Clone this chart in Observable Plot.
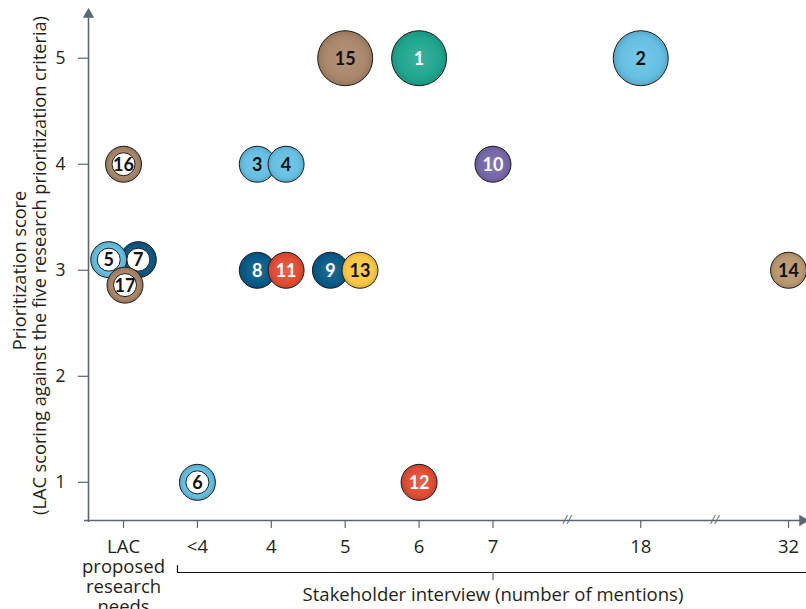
<!DOCTYPE html>
<html>
<head>
<meta charset="utf-8">
<script src="https://cdn.jsdelivr.net/npm/d3@7"></script>
<script src="https://cdn.jsdelivr.net/npm/@observablehq/plot@0.6"></script>
<style>
  html, body { margin: 0; padding: 0; background: #fff; }
  #chart svg { display: block; }
</style>
</head>
<body>
<div id="chart"></div>
<script>
// ---- Data ----
// x categories (stakeholder mentions), with "//" placeholders for axis breaks
const LAC = "LAC\nproposed\nresearch\nneeds";
const categories = [LAC, "<4", "4", "5", "6", "7", "//", "18", "//", "32"];
const ids      = [1, 2, 3, 4, 5, 6, 7, 8, 9, 10, 11, 12, 13, 14, 15, 16, 17];
const mentions = ["6", "18", "4", "4", LAC, "<4", LAC, "4", "5", "7", "4", "6", "5", "32", "5", LAC, LAC];
const scores   = [5, 5, 4, 4, 3, 1, 3, 3, 3, 4, 3, 1, 3, 3, 5, 4, 3];
const themes   = ["g-teal", "g-cyan", "g-cyan", "g-cyan", "g-cyan", "g-cyan", "g-navy", "g-navy", "g-navy", "g-violet", "g-scarlet", "g-scarlet", "g-gold", "g-sand", "g-umber", "g-umber", "g-umber"];
const ringed   = [false, false, false, false, true, true, true, false, false, false, false, false, false, false, false, true, true];
const large    = [true, true, false, false, false, false, false, false, false, false, false, false, false, false, true, false, false];
// small offsets used in the original to separate overlapping bubbles
const xNudge   = [0, 0, -0.19, 0.2, -0.2, 0, 0.2, -0.19, -0.2, 0, 0.2, 0, 0.2, 0, 0, 0, 0.02];
const yNudge   = [0, 0, 0, 0, 0.10, 0, 0.10, 0, 0, 0, 0, 0, 0, 0, 0, 0, -0.14];
const drawOrder = [1, 2, 15, 3, 4, 10, 16, 8, 11, 9, 13, 14, 7, 5, 17, 6, 12];

const themeNames  = ["g-teal", "g-cyan", "g-navy", "g-violet", "g-scarlet", "g-gold", "g-sand", "g-umber"];
const themeColors = ["#1fa68f", "#64c0e3", "#075a87", "#7667a9", "#e24b33", "#fec744", "#b9976f", "#a9876a"];
const darkThemes  = ["g-teal", "g-navy", "g-violet", "g-scarlet"];

const yTicks = [1, 2, 3, 4, 5];
const xTickIdx = [0, 1, 2, 3, 4, 5, 7, 9];
const breakIdx = [6, 8];

const bubbles = ids.map((id, i) => ({
  id,
  x: categories.indexOf(mentions[i]) + xNudge[i],
  y: scores[i] + yNudge[i],
  theme: themes[i],
  ring: ringed[i],
  r: large[i] ? 27.5 : 18
}));

// ---- Layout ----
const X0 = -0.474, X1 = 9.243, Y0 = 0.64, Y1 = 5.45;
const axisColor = "#5a6771";
const textColor = "#231f20";
const font = "'Open Sans', Lato, sans-serif";
const labelFont = "Lato, 'Open Sans', sans-serif";

const bubbleMarks = drawOrder.flatMap(id => {
  const d = bubbles.find(b => b.id === id);
  const m = [
    Plot.dot([d], {x: "x", y: "y", r: "r", fill: "theme", stroke: "#1b1b1b", strokeWidth: 1, className: "bubble"})
  ];
  if (d.ring) {
    m.push(Plot.dot([d], {x: "x", y: "y", r: d.r - 6.5, fill: "#fff", stroke: "#1b1b1b", strokeWidth: 1}));
  }
  const labelFill = (!d.ring && darkThemes.includes(d.theme)) ? "#fff" : "#111";
  m.push(Plot.text([d], {x: "x", y: "y", text: "id", fill: labelFill, fontSize: 18, fontWeight: "bold", fontFamily: labelFont, dy: 1}));
  return m;
});

const chart = Plot.plot({
  width: 806,
  height: 609,
  marginLeft: 88,
  marginRight: 0,
  marginTop: 10,
  marginBottom: 89,
  style: {fontFamily: font, background: "#fff", color: textColor, overflow: "visible"},
  x: {type: "linear", domain: [X0, X1], axis: null},
  y: {type: "linear", domain: [Y0, Y1], axis: null},
  r: {type: "identity"},
  color: {type: "ordinal", domain: themeNames, range: themeColors},
  marks: [
    // axes lines
    Plot.ruleX([X0], {y1: Y0, y2: Y1, stroke: axisColor, strokeWidth: 1.6, dy: 2}),
    Plot.ruleY([Y0], {x1: X0, x2: X1, stroke: axisColor, strokeWidth: 1.6, dx: -4}),
    Plot.dot([0], {x: X0, y: Y1, symbol: "triangle", r: 4.2, fill: axisColor, dy: 4}),
    Plot.dot([0], {x: X1, y: Y0, symbol: "triangle", r: 4.2, fill: axisColor, rotate: 90, dx: -4}),
    // ticks
    Plot.axisY(yTicks, {anchor: "left", label: null, tickFormat: d => String(d), tickSize: 10, tickPadding: 13, fontSize: 17.5, stroke: axisColor, fill: textColor, strokeWidth: 1.2}),
    Plot.axisX(xTickIdx, {anchor: "bottom", label: null, tickSize: 8, tickPadding: 10, fontSize: 18.5, lineHeight: 1.08, tickFormat: i => categories[i], stroke: axisColor, fill: textColor, strokeWidth: 1.2}),
    // axis break marks
    Plot.text(breakIdx, {x: d => d, y: Y0, text: () => "//", fontSize: 12, fontStyle: "italic", fill: axisColor}),
    // bracket for the stakeholder-interview categories
    Plot.line([{x: 0.73, y: Y0 - 45 / 106}, {x: 0.73, y: Y0 - 52 / 106}, {x: X1, y: Y0 - 52 / 106}], {x: "x", y: "y", stroke: "#111", strokeWidth: 1.2}),
    Plot.ruleX([5], {y1: Y0 - 52 / 106, y2: Y0 - 60 / 106, stroke: axisColor, strokeWidth: 1.2}),
    Plot.text(["Stakeholder interview (number of mentions)"], {x: 5, y: Y0, dy: 75, fontSize: 18.5, fill: textColor}),
    // y-axis title
    Plot.text(["Prioritization score"], {frameAnchor: "left", textAnchor: "middle", dx: -68, dy: 5, rotate: -90, fontSize: 18.2, fill: textColor}),
    Plot.text(["(LAC scoring against the five research prioritization criteria)"], {frameAnchor: "left", textAnchor: "middle", dx: -48, dy: 0, rotate: -90, fontSize: 18.2, fill: textColor}),
    ...bubbleMarks
  ]
});

// subtle radial shading like the original bubbles
const svg = d3.select(chart);
const defs = svg.insert("defs", ":first-child");
themeNames.forEach((name, i) => {
  const base = d3.color(themeColors[i]);
  const g = defs.append("radialGradient").attr("id", "shade-" + name).attr("cx", "50%").attr("cy", "50%").attr("r", "50%");
  g.append("stop").attr("offset", "0%").attr("stop-color", d3.interpolateRgb(base, "#fff")(0.12));
  g.append("stop").attr("offset", "75%").attr("stop-color", base.formatHex());
  g.append("stop").attr("offset", "100%").attr("stop-color", base.darker(0.35).formatHex());
});
svg.selectAll("g.bubble circle").each(function () {
  const f = (this.getAttribute("fill") || "").toLowerCase();
  const i = themeColors.indexOf(f);
  if (i >= 0) this.setAttribute("fill", "url(#shade-" + themeNames[i] + ")");
});

document.getElementById("chart").appendChild(chart);
</script>
</body>
</html>
